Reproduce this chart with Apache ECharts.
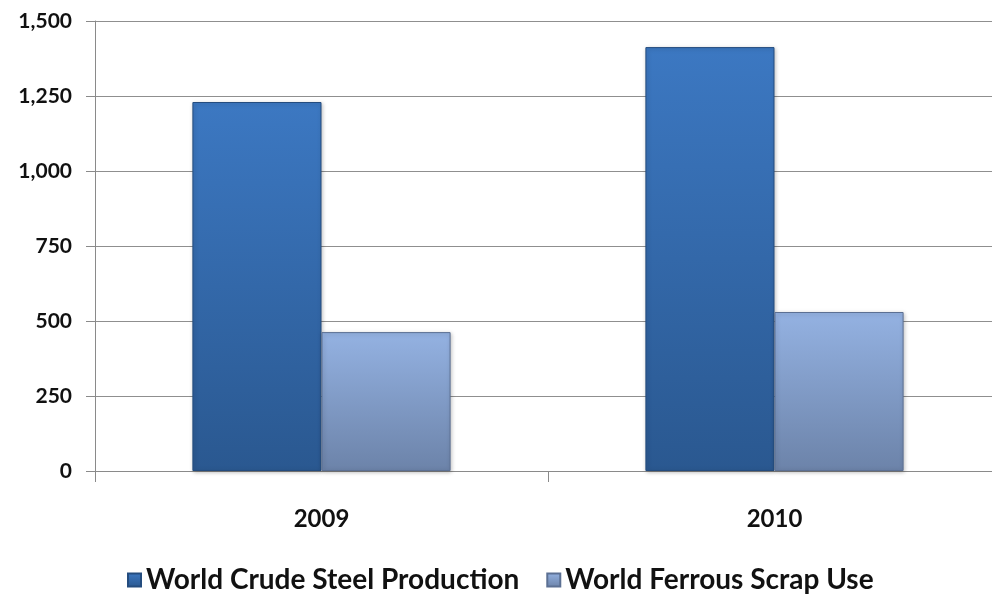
<!DOCTYPE html>
<html><head><meta charset="utf-8">
<script src="https://cdn.jsdelivr.net/npm/echarts@6/dist/echarts.min.js"></script>
<style>html,body{margin:0;padding:0;background:#fff}#c{width:992px;height:594px}</style>
</head><body><div id="c"></div>
<script>
const categories = ['2009', '2010'];
const steelProduction = [1230, 1413];
const scrapUse = [463, 530];
const yTicks = { min: 0, max: 1500, interval: 250 };
const seriesNames = ['World Crude Steel Production', 'World Ferrous Scrap Use'];

const font = 'Lato, "Open Sans", sans-serif';
function grad(top, bottom) {
  return new echarts.graphic.LinearGradient(0, 0, 0, 1, [
    { offset: 0, color: top }, { offset: 1, color: bottom }
  ]);
}
const chart = echarts.init(document.getElementById('c'));
chart.setOption({
  animation: false,
  grid: { left: 95, top: 21, right: -9, bottom: 123, outerBoundsMode: 'none', containLabel: false },
  legend: {
    bottom: -5, left: 122, itemGap: 27, itemWidth: 13, itemHeight: 13,
    icon: 'rect',
    textStyle: { fontFamily: font, fontWeight: 'bold', fontSize: 28, color: '#111' },
    data: seriesNames
  },
  xAxis: {
    type: 'category', data: categories,
    axisLine: { lineStyle: { color: '#8a8a8a' } },
    axisTick: { show: true, length: 11, lineStyle: { color: '#8a8a8a' } },
    axisLabel: { margin: 36, fontFamily: font, fontWeight: 'bold', fontSize: 24, color: '#111' }
  },
  yAxis: {
    type: 'value', min: yTicks.min, max: yTicks.max, interval: yTicks.interval,
    axisLine: { show: true, lineStyle: { color: '#8a8a8a' } },
    axisTick: { show: true, length: 9, lineStyle: { color: '#8a8a8a' } },
    splitLine: { lineStyle: { color: '#8f8f8f' } },
    axisLabel: {
      margin: 23, fontFamily: font, fontWeight: 'bold', fontSize: 21, color: '#111',
      formatter: v => v.toLocaleString('en-US')
    }
  },
  series: [
    {
      name: seriesNames[0], type: 'bar', data: steelProduction,
      barGap: '0%', barCategoryGap: '43%',
      itemStyle: {
        color: grad('#3c78c2', '#2a5890'),
        borderColor: '#244c7e', borderWidth: 1,
        shadowColor: 'rgba(0,0,0,0.25)', shadowBlur: 4, shadowOffsetX: 1, shadowOffsetY: 1
      }
    },
    {
      name: seriesNames[1], type: 'bar', data: scrapUse,
      itemStyle: {
        color: grad('#94b2e2', '#6c83a9'),
        borderColor: '#5c7093', borderWidth: 1,
        shadowColor: 'rgba(0,0,0,0.25)', shadowBlur: 4, shadowOffsetX: 1, shadowOffsetY: 1
      }
    }
  ]
});
</script></body></html>
